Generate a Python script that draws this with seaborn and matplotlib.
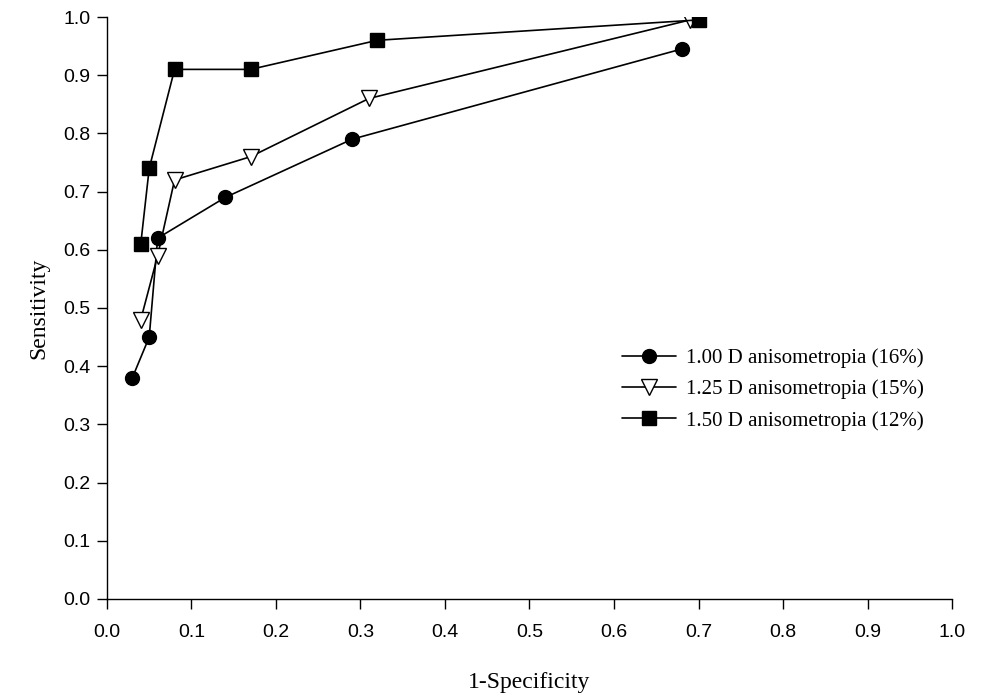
import pandas as pd
import matplotlib.pyplot as plt
import seaborn as sns

sns.set_style('ticks')
plt.rcParams['text.color'] = 'black'
plt.rcParams['axes.labelcolor'] = 'black'

labels = ['1.00 D anisometropia (16%)', '1.25 D anisometropia (15%)', '1.50 D anisometropia (12%)']
x_100 = [0.03, 0.05, 0.06, 0.14, 0.29, 0.68]
y_100 = [0.38, 0.45, 0.62, 0.69, 0.79, 0.945]
x_125 = [0.04, 0.06, 0.08, 0.17, 0.31, 0.69]
y_125 = [0.48, 0.59, 0.72, 0.76, 0.86, 0.995]
x_150 = [0.04, 0.05, 0.08, 0.17, 0.32, 0.70]
y_150 = [0.61, 0.74, 0.91, 0.91, 0.96, 0.995]

series = [(x_100, y_100, 'o', 'black'), (x_125, y_125, 'v', 'white'), (x_150, y_150, 's', 'black')]

fig = plt.figure(figsize=(9.84, 7), dpi=100)
ax = fig.add_axes([0.1087, 0.1443, 0.8588, 0.8314])

for (xs, ys, m, fc), lab in zip(series, labels):
    df = pd.DataFrame({'x': xs, 'y': ys})
    sns.lineplot(data=df, x='x', y='y', ax=ax, sort=False, color='black', lw=1.2,
                 marker=m, markersize=10 if m != 'v' else 11, markerfacecolor=fc,
                 markeredgecolor='black', markeredgewidth=1, label=lab)

ax.set_xlim(0, 1.0)
ax.set_ylim(0, 1.0)
ax.set_xticks([i / 10 for i in range(11)])
ax.set_yticks([i / 10 for i in range(11)])
ax.set_xticklabels([f'{i / 10:.1f}' for i in range(11)], fontfamily='Liberation Sans', fontsize=14)
ax.set_yticklabels([f'{i / 10:.1f}' for i in range(11)], fontfamily='Liberation Sans', fontsize=14)
ax.tick_params(direction='out', length=7, width=1, colors='black', labelcolor='black')
ax.tick_params(axis='x', pad=11)
ax.tick_params(axis='y', pad=5)
for s in ['top', 'right']:
    ax.spines[s].set_visible(False)
for s in ['left', 'bottom']:
    ax.spines[s].set_color('black')
    ax.spines[s].set_linewidth(1)
ax.set_xlabel('1-Specificity', fontfamily='Liberation Serif', fontsize=17, labelpad=22, color='black')
ax.set_ylabel('Sensitivity', fontfamily='Liberation Serif', fontsize=17, labelpad=10, color='black')

leg = ax.legend(loc='center left', bbox_to_anchor=(0.587, 0.36), frameon=False,
                prop={'family': 'Liberation Serif', 'size': 15}, handlelength=2.6,
                handletextpad=0.5, labelspacing=0.55)
for t in leg.get_texts():
    t.set_color('black')

fig.savefig('out.png', dpi=100)
